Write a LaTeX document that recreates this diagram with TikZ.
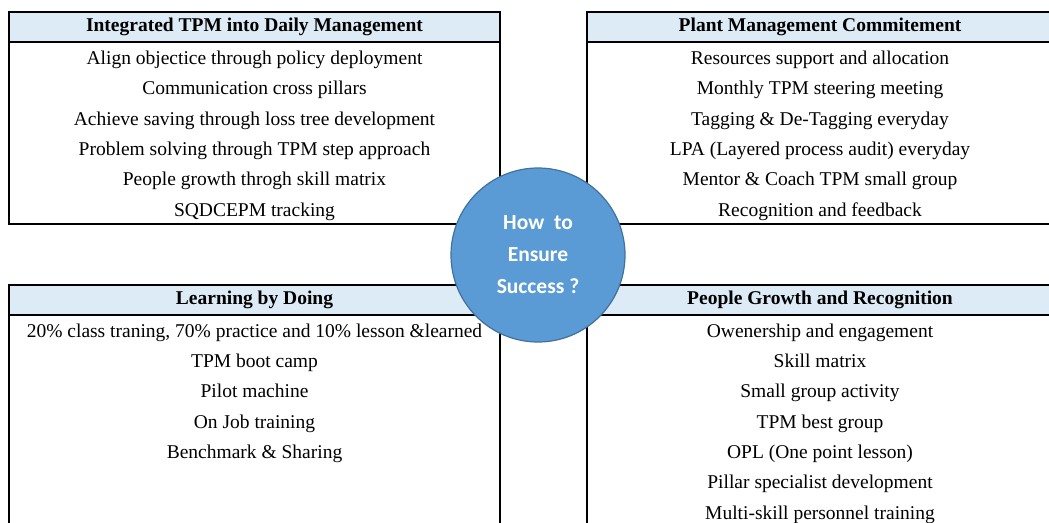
\documentclass[tikz,border=0pt]{standalone}
\usepackage{fontspec}
\setmainfont{Liberation Serif}
\newfontfamily\circfont{Carlito}
\definecolor{hdrfill}{RGB}{221,235,247}
\definecolor{circfill}{RGB}{91,155,213}
\definecolor{circline}{RGB}{65,113,156}
\begin{document}
\begin{tikzpicture}[x=1pt,y=-1pt,
  frame/.style={line width=1.4pt,black},
  hdrtext/.style={font=\fontsize{19.5}{22}\selectfont\bfseries,inner sep=0pt,text height=12pt,text depth=4pt,anchor=center},
  rowtext/.style={font=\fontsize{19.5}{22}\selectfont,inner sep=0pt,text height=12pt,text depth=4pt,anchor=center},
  hub/.style={circle,fill=circfill,draw=circline,line width=1.2pt,minimum size=174pt,inner sep=0pt,
    text=white,align=center,font=\circfont\fontsize{21.5}{32}\selectfont\bfseries}]
\useasboundingbox (0,0) rectangle (1049,522);
\clip (0,0) rectangle (1049,522);
\fill[white] (0,0) rectangle (1049,522);

% header bands
\fill[hdrfill] (9,12) rectangle (500,42);
\fill[hdrfill] (587,12) rectangle (1053,42);
\fill[hdrfill] (9,285) rectangle (500,315);
\fill[hdrfill] (587,285) rectangle (1053,315);

% top-left box
\draw[frame] (9,12) rectangle (500,224);
\draw[frame] (9,42) -- (500,42);
% top-right box (runs past the right edge)
\draw[frame] (1053,12) -- (587,12) -- (587,224) -- (1053,224);
\draw[frame] (587,42) -- (1053,42);
% bottom-left box (runs past the bottom edge)
\draw[frame] (9,530) -- (9,285) -- (500,285) -- (500,530);
\draw[frame] (9,315) -- (500,315);
% bottom-right box
\draw[frame] (1053,285) -- (587,285) -- (587,530);
\draw[frame] (587,315) -- (1053,315);

% headers
\node[hdrtext] (tlh) at (254.5,27) {Integrated TPM into Daily Management};
\node[hdrtext] (trh) at (820,27) {Plant Management Commitement};
\node[hdrtext] (blh) at (254.5,300) {Learning by Doing};
\node[hdrtext] (brh) at (820,300) {People Growth and Recognition};

% rows
\foreach \t [count=\i] in {Align objectice through policy deployment,
  Communication cross pillars,
  Achieve saving through loss tree development,
  Problem solving through TPM step approach,
  People growth throgh skill matrix,
  SQDCEPM tracking}
  \node[rowtext] (tl\i) at (254.5,{45.5+30.33*(\i-0.5)}) {\t};

\foreach \t [count=\i] in {Resources support and allocation,
  Monthly TPM steering meeting,
  Tagging \& De-Tagging everyday,
  LPA (Layered process audit) everyday,
  Mentor \& Coach TPM small group,
  Recognition and feedback}
  \node[rowtext] (tr\i) at (820,{45.5+30.33*(\i-0.5)}) {\t};

\foreach \t [count=\i] in {{20\% class traning, 70\% practice and 10\% lesson \&learned},
  TPM boot camp,
  Pilot machine,
  On Job training,
  Benchmark \& Sharing}
  \node[rowtext] (bl\i) at (254.5,{318+30.33*(\i-0.5)}) {\t};

\foreach \t [count=\i] in {Owenership and engagement,
  Skill matrix,
  Small group activity,
  TPM best group,
  OPL (One point lesson),
  Pillar specialist development,
  Multi-skill personnel training}
  \node[rowtext] (br\i) at (820,{318+30.33*(\i-0.5)}) {\t};

% central question
\node[hub] (hub) at (538,255) {How\ \ to\\Ensure\\Success ?};
\end{tikzpicture}
\end{document}
